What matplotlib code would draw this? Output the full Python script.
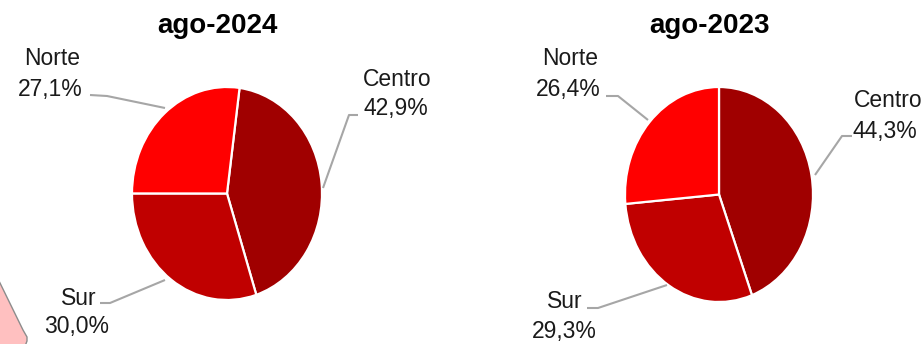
import matplotlib
matplotlib.use('Agg')
import matplotlib.pyplot as plt
from matplotlib.patches import Polygon

plt.rcParams['font.family'] = ['Liberation Sans', 'DejaVu Sans']

# shares by region, same order for both months
regions = ['Centro', 'Sur', 'Norte']
share_2024 = [42.9, 30.0, 27.1]
share_2023 = [44.3, 29.3, 26.4]
titles = ['ago-2024', 'ago-2023']
colors = ['#A00000', '#C00000', '#FF0000']

W, H = 924, 344


def px_axes(fig, x0, y0, x1, y1, **kw):
    """axes placed by pixel box (top-left origin)"""
    return fig.add_axes([x0 / W, 1 - y1 / H, (x1 - x0) / W, (y1 - y0) / H], **kw)


def fmt(v):
    return f'{v:.1f}%'.replace('.', ',')


def draw_pie(fig, box, values, start):
    ax = px_axes(fig, *box)
    ax.pie(values, colors=colors, startangle=start, counterclock=False,
           wedgeprops=dict(edgecolor='white', linewidth=1.6))
    # excel squashed it a bit, so no equal aspect
    ax.set_aspect('auto')
    ax.set_xlim(-1, 1)
    ax.set_ylim(-1, 1)
    ax.axis('off')
    return ax


def draw_labels(ax, values, layout):
    for name, v in zip(regions, values):
        (nx, ny), (px, py), leader = layout[name]
        ax.text(nx, ny, name, ha='center', va='baseline', fontsize=16.5, color='#1a1a1a')
        ax.text(px, py, fmt(v), ha='center', va='baseline', fontsize=16.5, color='#1a1a1a')
        xs, ys = zip(*leader)
        ax.plot(xs, ys, color='#A6A6A6', lw=1.5, solid_capstyle='butt')


if __name__ == "__main__":
    fig = plt.figure(figsize=(W / 100, H / 100), dpi=100)

    draw_pie(fig, (132, 87, 322, 300), share_2024, 82.4)
    draw_pie(fig, (625, 87, 813, 302), share_2023, 90)

    over = fig.add_axes([0, 0, 1, 1], facecolor='none')
    over.set_xlim(0, W)
    over.set_ylim(H, 0)
    over.axis('off')

    # corner of some other shape peeking in at bottom left
    over.add_patch(Polygon([(-5, 273), (0, 283), (23, 330), (27, 337), (27, 341),
                            (24, 349), (-5, 349)], closed=True,
                           facecolor='#FFC0C0', edgecolor='#8C8C8C', lw=1))

    over.text(217, 33, titles[0], ha='center', va='baseline', fontsize=20, fontweight='bold')
    over.text(710, 33, titles[1], ha='center', va='baseline', fontsize=20, fontweight='bold')

    left_layout = {
        'Centro': ((397, 86), (396, 115), [(358, 115), (349, 115), (323, 188)]),
        'Sur': ((79, 305), (77, 333), [(100, 303), (110, 303), (165, 280)]),
        'Norte': ((52, 65), (50, 96), [(90, 95), (107, 96), (165, 108)]),
    }
    right_layout = {
        'Centro': ((888, 107), (885, 138), [(852, 136), (842, 136), (815, 175)]),
        'Sur': ((565, 308), (564, 338), [(587, 308), (598, 308), (667, 285)]),
        'Norte': ((570, 65), (568, 96), [(606, 96), (618, 96), (648, 120)]),
    }
    draw_labels(over, share_2024, left_layout)
    draw_labels(over, share_2023, right_layout)

    fig.savefig('out.png', dpi=100)
